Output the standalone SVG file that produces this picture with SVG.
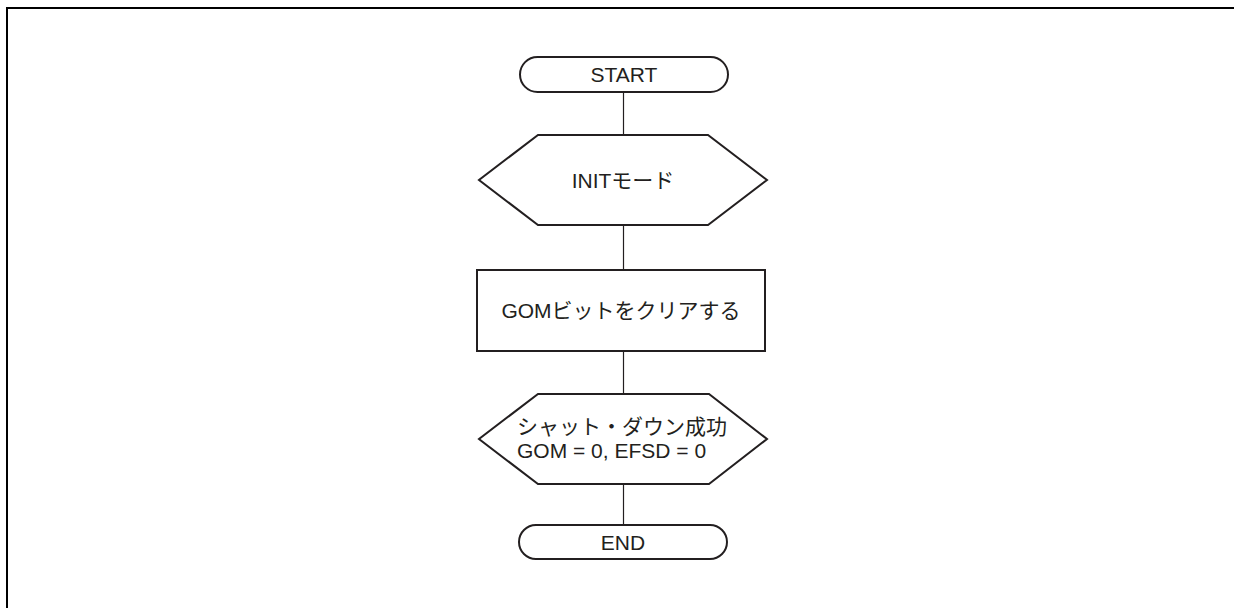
<svg xmlns="http://www.w3.org/2000/svg" width="1234" height="608" viewBox="0 0 1234 608">
<style>
.shape{fill:#fff;stroke:#231f20;stroke-width:2}
.conn{stroke:#231f20;stroke-width:1.2;fill:none}
text{font-family:"Liberation Sans","Noto Sans CJK JP",sans-serif;font-size:21px;fill:#231f20}
.c{text-anchor:middle}
</style>
<rect width="1234" height="608" fill="#fff"/>
<path d="M7,608 V8 H1234" fill="none" stroke="#000" stroke-width="2"/>
<g id="connectors">
<line class="conn" x1="623.5" y1="92" x2="623.5" y2="135"/>
<line class="conn" x1="623.5" y1="225" x2="623.5" y2="270"/>
<line class="conn" x1="623.5" y1="351" x2="623.5" y2="394"/>
<line class="conn" x1="623.5" y1="484" x2="623.5" y2="525"/>
</g>
<g id="start">
<rect class="shape" x="520" y="57" width="208" height="35" rx="17.5"/>
<text class="c" x="624" y="82">START</text>
</g>
<g id="init">
<polygon class="shape" points="538,135 708,135 767,180 708,225 538,225 479,180"/>
<text class="c" x="623" y="188">INITモード</text>
</g>
<g id="clear">
<rect class="shape" x="477" y="270" width="288" height="81"/>
<text class="c" x="621" y="318">GOMビットをクリアする</text>
</g>
<g id="shutdown">
<polygon class="shape" points="538,394 709,394 767,439 709,484 538,484 479,439"/>
<text x="517" y="434">シャット・ダウン成功</text>
<text x="517" y="458">GOM = 0, EFSD = 0</text>
</g>
<g id="end">
<rect class="shape" x="519" y="525" width="208" height="34" rx="17"/>
<text class="c" x="623" y="550">END</text>
</g>
</svg>
